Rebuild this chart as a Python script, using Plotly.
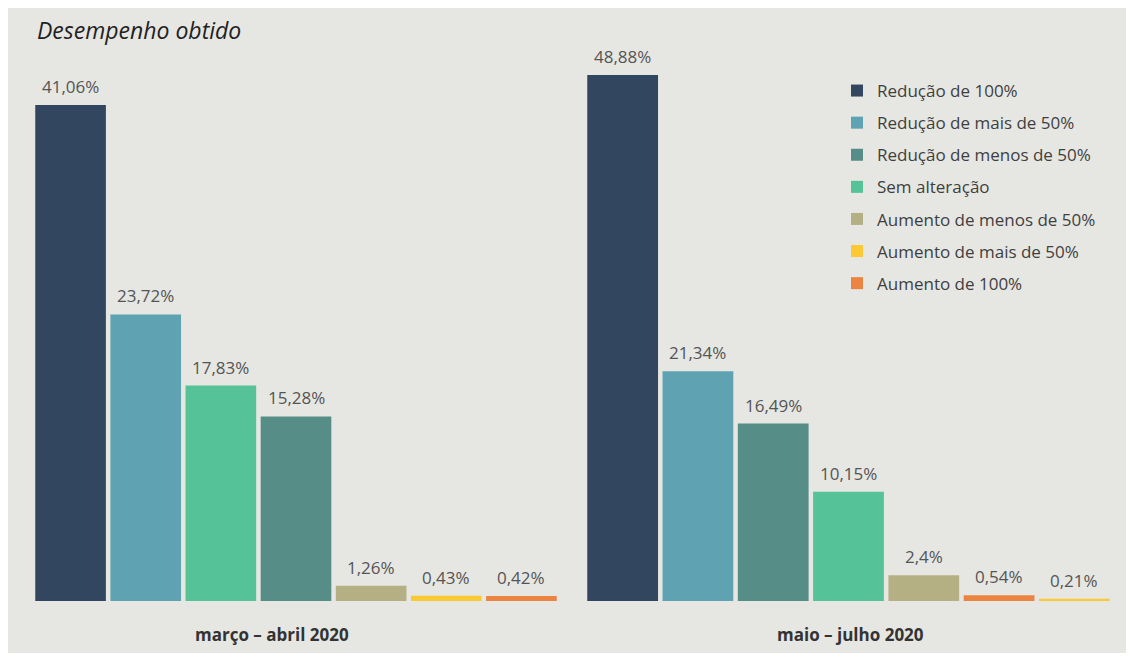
import plotly.graph_objects as go

categories = [
    "Redução de 100%",
    "Redução de mais de 50%",
    "Redução de menos de 50%",
    "Sem alteração",
    "Aumento de menos de 50%",
    "Aumento de mais de 50%",
    "Aumento de 100%",
]
colors = ["#33465f", "#5fa3b3", "#568d87", "#55c297", "#b4b083", "#fbc933", "#eb8440"]
periods = ["março – abril 2020", "maio – julho 2020"]
values_mar_abr = [41.06, 23.72, 15.28, 17.83, 1.26, 0.43, 0.42]
values_mai_jul = [48.88, 21.34, 16.49, 10.15, 2.4, 0.21, 0.54]
series = [values_mar_abr, values_mai_jul]


def fmt(v):
    return str(v).replace(".", ",") + "%"


fig = go.Figure()
value_labels = []
for gi, vals in enumerate(series):
    xa = "x" if gi == 0 else "x2"
    ya = "y" if gi == 0 else "y2"
    for ci, cat in enumerate(categories):
        fig.add_trace(go.Bar(
            x=[cat], y=[vals[ci]],
            name=cat,
            legendgroup=cat,
            showlegend=(gi == 0),
            marker=dict(color=colors[ci], line=dict(width=0)),
            xaxis=xa, yaxis=ya,
            customdata=[fmt(vals[ci])],
            hovertemplate="%{x}: %{customdata}<extra></extra>",
        ))
        value_labels.append(dict(
            text=fmt(vals[ci]), xref=xa, yref=ya, x=cat, y=vals[ci],
            xanchor="center", yanchor="bottom", yshift=5, showarrow=False,
            font=dict(family="Open Sans", size=17, color="#555555"),
        ))

# page has an 8px body margin; figure pixel = reference pixel - 8
W, H = 1118, 645
bottom_px, top_px = 593, 47
ydom = [(H - bottom_px) / H, (H - top_px) / H]

fig.update_layout(
    width=W, height=H,
    margin=dict(l=0, r=0, t=0, b=0),
    paper_bgcolor="#e6e6e2",
    plot_bgcolor="rgba(0,0,0,0)",
    barmode="overlay",
    bargap=0.06,
    showlegend=True,
    legend=dict(
        x=829 / W, y=(H - 65) / H, xanchor="left", yanchor="top",
        bgcolor="rgba(0,0,0,0)",
        font=dict(family="Open Sans", size=17, color="#3f3f3f"),
        tracegroupgap=7,
        itemclick=False, itemdoubleclick=False,
    ),
    xaxis=dict(domain=[25 / W, 551 / W], categoryorder="total descending",
               showticklabels=False, showgrid=False, zeroline=False, showline=False, ticks=""),
    xaxis2=dict(domain=[577 / W, 1104 / W], categoryorder="total descending",
                showticklabels=False, showgrid=False, zeroline=False, showline=False, ticks=""),
    yaxis=dict(domain=ydom, range=[0, 45.2], visible=False),
    yaxis2=dict(domain=ydom, range=[0, 50.74], visible=False, anchor="x2"),
    annotations=value_labels + [
        dict(text="<i>Desempenho obtido</i>", xref="paper", yref="paper",
             x=27 / W, y=(H - 22) / H, xanchor="left", yanchor="middle",
             showarrow=False, font=dict(family="Open Sans", size=23, color="#222222")),
        dict(text="<b>" + periods[0] + "</b>", xref="paper", yref="paper",
             x=264 / W, y=(H - 626) / H, xanchor="center", yanchor="middle",
             showarrow=False, font=dict(family="Open Sans", size=17, color="#333333")),
        dict(text="<b>" + periods[1] + "</b>", xref="paper", yref="paper",
             x=842 / W, y=(H - 626) / H, xanchor="center", yanchor="middle",
             showarrow=False, font=dict(family="Open Sans", size=17, color="#333333")),
    ],
)

fig.write_html("out.html")
